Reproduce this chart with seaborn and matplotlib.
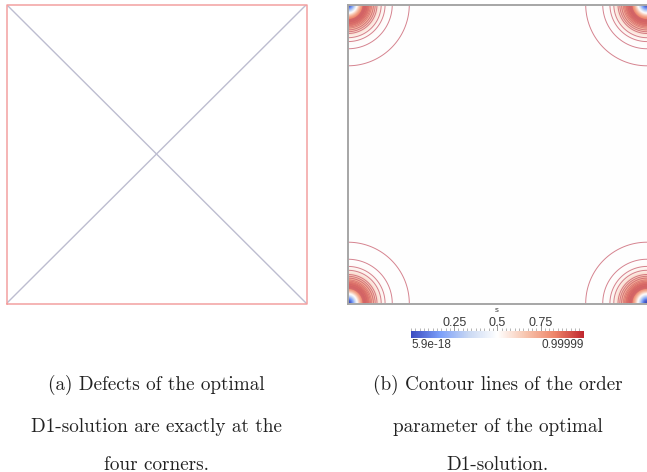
import numpy as np
import pandas as pd
import matplotlib
matplotlib.use("Agg")
import matplotlib.pyplot as plt
from matplotlib.colors import LinearSegmentedColormap, Normalize
from matplotlib.cm import ScalarMappable
from matplotlib.ticker import MultipleLocator, FixedLocator
import seaborn as sns

# ---- data -------------------------------------------------------------
# unit-square domain: boundary and the two diagonals
boundary_x = [0, 1, 1, 0, 0]
boundary_y = [0, 0, 1, 1, 0]
diag1_x, diag1_y = [0, 1], [0, 1]
diag2_x, diag2_y = [0, 1], [1, 0]

# defect locations (the four corners)
defect_x = [0, 1, 1, 0]
defect_y = [0, 0, 1, 1]

# radii of the drawn s-contours around each defect (domain units)
contour_radii = [0.205, 0.148, 0.124, 0.111, 0.097, 0.091, 0.085, 0.079,
                 0.075, 0.071, 0.068, 0.065, 0.063, 0.060, 0.058, 0.056,
                 0.054, 0.052, 0.050]

# order-parameter profile around a defect (domain units)
core_radius = 0.036      # s rises from 0 to ~1 over this scale
ring_start = 0.040       # red ring begins to fade here
ring_decay = 0.045       # fade length back to the bulk value
s_bulk = 0.5

# colour bar
s_min, s_max = 5.9e-18, 0.99999
s_ticks = [0.25, 0.5, 0.75]
s_min_label, s_max_label = "5.9e-18", "0.99999"

captions_a = ["(a) Defects of the optimal",
              "D1-solution are exactly at the",
              "four corners."]
captions_b = ["(b) Contour lines of the order",
              "parameter of the optimal",
              "D1-solution."]

# ---- style --------------------------------------------------------------
sns.set_theme(style="white")
plt.rcParams["font.family"] = ["Liberation Sans", "DejaVu Sans"]

W, H = 647, 472
fig = plt.figure(figsize=(W / 100, H / 100), dpi=100)
fig.patch.set_facecolor("white")


def fbox(x0, y0, x1, y1):
    """pixel box (top-left origin) -> figure fraction rect"""
    return [x0 / W, 1 - y1 / H, (x1 - x0) / W, (y1 - y0) / H]


# ---- (a) domain with defect lines --------------------------------------
ax_a = fig.add_axes(fbox(6.5, 4.5, 306.5, 303.5))
sns.lineplot(x=diag1_x, y=diag1_y, ax=ax_a, color="#bdbdd0", lw=1.0,
             sort=False, estimator=None)
sns.lineplot(x=diag2_x, y=diag2_y, ax=ax_a, color="#bdbdd0", lw=1.0,
             sort=False, estimator=None)
sns.lineplot(x=boundary_x, y=boundary_y, ax=ax_a, color="#f3a0a0", lw=1.1,
             sort=False, estimator=None, clip_on=False)
ax_a.set_xlim(0, 1)
ax_a.set_ylim(0, 1)
ax_a.set_axis_off()

# ---- (b) order parameter with contours ---------------------------------
ax_b = fig.add_axes(fbox(348, 4.5, 647, 303.5))
n = 900
g = np.linspace(0, 1, n)
X, Y = np.meshgrid(g, g)
R = np.full_like(X, np.inf)
for cx, cy in zip(defect_x, defect_y):
    R = np.minimum(R, np.hypot(X - cx, Y - cy))

core = 1 - np.exp(-(R / core_radius) ** 2)
fade = np.exp(-(np.clip(R - ring_start, 0, None) / ring_decay) ** 2)
S = core * (s_bulk + (1 - s_bulk) * fade)

cmap = LinearSegmentedColormap.from_list(
    "coolwarm_pv",
    ["#3b4cc0", "#7b9ff9", "#c9d8f3", "#ffffff", "#f7c4ad", "#ee8468", "#c0282f"])
norm = Normalize(s_min, s_max)
ax_b.imshow(S, extent=[0, 1, 0, 1], origin="lower", cmap=cmap, norm=norm,
            interpolation="bilinear", zorder=0)
radii = sorted(contour_radii)
widths = [0.45 if r < 0.08 else 0.7 for r in radii]
ax_b.contour(X, Y, R, levels=radii, colors="#c85a6a",
             linewidths=widths, alpha=0.75, zorder=1)
ax_b.set_xlim(0, 1)
ax_b.set_ylim(0, 1)
ax_b.set_xticks([])
ax_b.set_yticks([])
for side in ["left", "top", "bottom"]:
    ax_b.spines[side].set_color("#a6a6a6")
    ax_b.spines[side].set_linewidth(1.4)
    ax_b.spines[side].set_visible(True)
ax_b.spines["right"].set_visible(False)

# ---- colour bar ---------------------------------------------------------
cax = fig.add_axes(fbox(411, 330.7, 583.7, 338.3))
cb = fig.colorbar(ScalarMappable(norm=norm, cmap=cmap), cax=cax,
                  orientation="horizontal")
cb.outline.set_visible(False)
cax.xaxis.set_ticks_position("top")
cax.xaxis.set_major_locator(FixedLocator(s_ticks))
cax.xaxis.set_minor_locator(MultipleLocator(0.025))
cax.set_xticklabels([f"{t:g}" for t in s_ticks])
cax.tick_params(axis="x", which="major", length=5, width=0.6, color="#8c8c8c",
                labelsize=9, labelcolor="#3a3a3a", pad=-3.5, top=True, bottom=False)
cax.tick_params(axis="x", which="minor", length=2.5, width=0.5, color="#9a9a9a",
                top=True, bottom=False)
fig.text(497 / W, 1 - 310 / H, "s", ha="center", va="center", fontsize=5.5,
         color="#3a3a3a")
fig.text(411 / W, 1 - 345.5 / H, s_min_label, ha="left", va="center",
         fontsize=8.5, color="#3a3a3a")
fig.text(583.7 / W, 1 - 345.5 / H, s_max_label, ha="right", va="center",
         fontsize=8.5, color="#3a3a3a")

# ---- captions -------------------------------------------------------------
cap_font = ["cmr10", "DejaVu Serif"]
for lines, xc in [(captions_a, 156), (captions_b, 497.5)]:
    for txt, yb in zip(lines, [390, 432, 469.5]):
        fig.text(xc / W, 1 - yb / H, txt, ha="center", va="baseline",
                 fontsize=13.8, family=cap_font, color="#222222")

fig.savefig("out.png", dpi=100, facecolor="white")
